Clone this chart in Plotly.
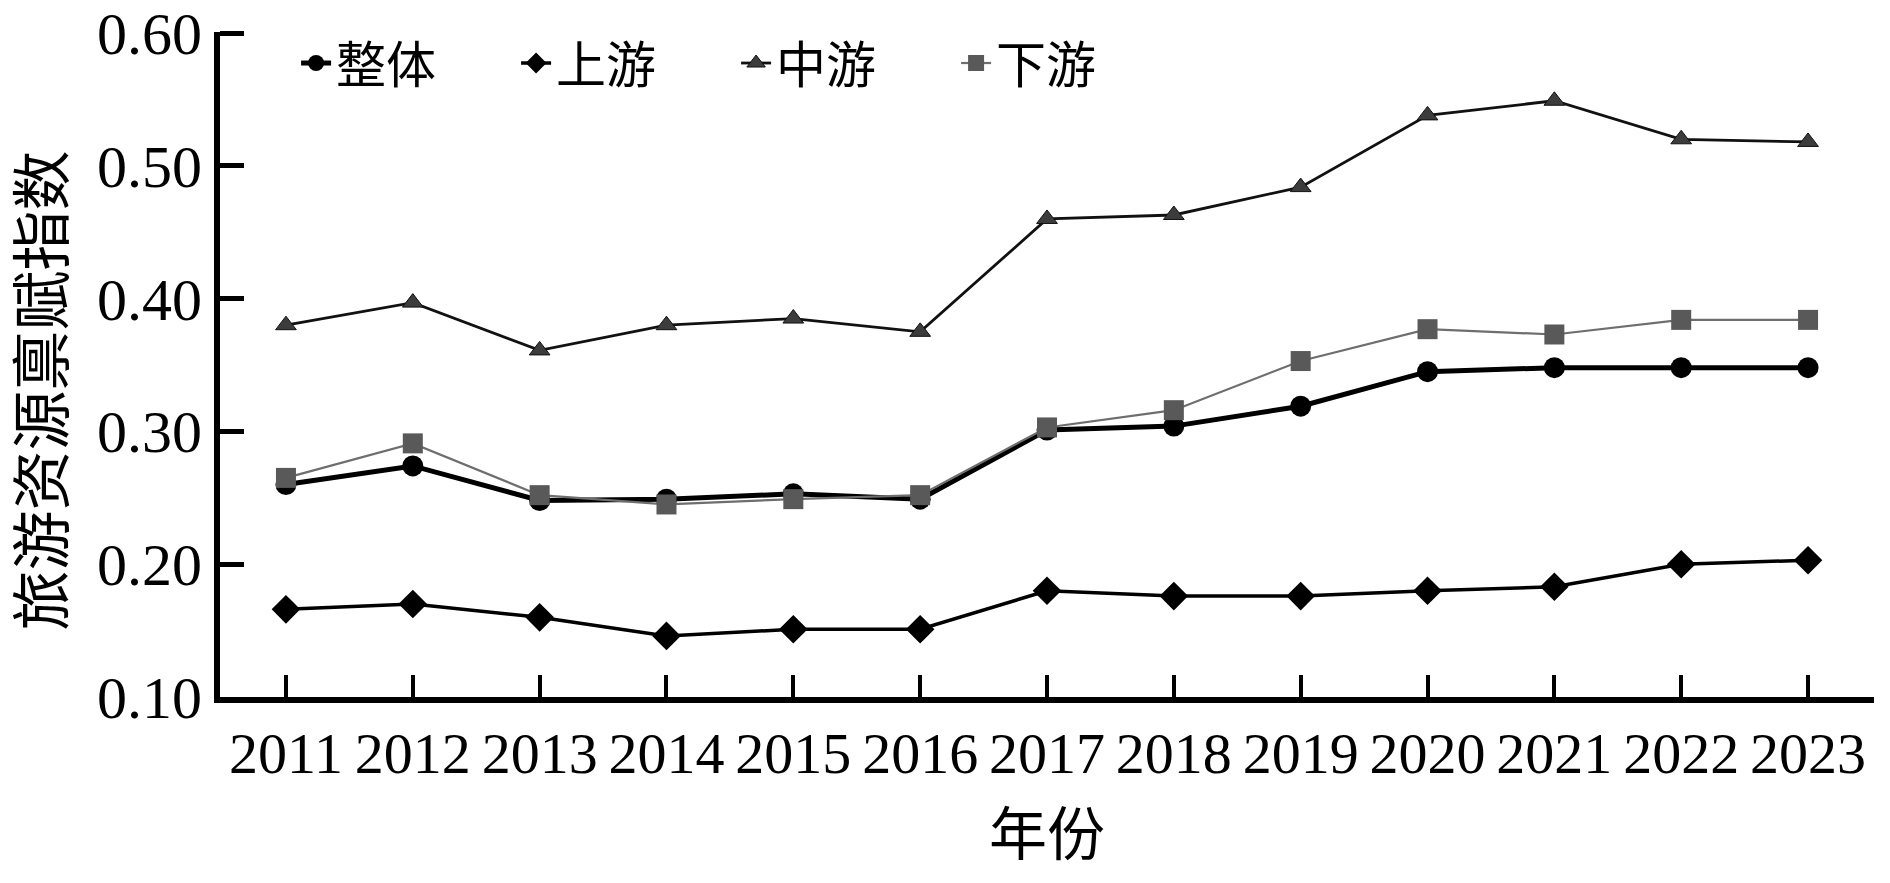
import plotly.graph_objects as go

years = [2011, 2012, 2013, 2014, 2015, 2016, 2017, 2018, 2019, 2020, 2021, 2022, 2023]
overall = [0.260, 0.274, 0.248, 0.249, 0.253, 0.249, 0.301, 0.304, 0.319, 0.345, 0.348, 0.348, 0.348]
upstream = [0.166, 0.170, 0.160, 0.146, 0.151, 0.151, 0.180, 0.176, 0.176, 0.180, 0.183, 0.200, 0.203]
midstream = [0.380, 0.397, 0.361, 0.380, 0.385, 0.375, 0.460, 0.463, 0.484, 0.538, 0.549, 0.520, 0.518]
downstream = [0.265, 0.291, 0.252, 0.245, 0.249, 0.252, 0.303, 0.316, 0.353, 0.377, 0.373, 0.384, 0.384]
series_names = ["整体", "上游", "中游", "下游"]
y_ticks = [0.10, 0.20, 0.30, 0.40, 0.50, 0.60]
y_title = "旅游资源禀赋指数"
x_title = "年份"

FONT = "Liberation Serif, Times New Roman, Noto Sans CJK SC"

fig = go.Figure()
fig.add_trace(go.Scatter(x=years, y=overall, name=series_names[0], mode="lines+markers",
                         line=dict(color="black", width=5),
                         marker=dict(symbol="circle", size=21, color="black")))
fig.add_trace(go.Scatter(x=years, y=upstream, name=series_names[1], mode="lines+markers",
                         line=dict(color="black", width=3.5),
                         marker=dict(symbol="diamond", size=22, color="black")))
fig.add_trace(go.Scatter(x=years, y=midstream, name=series_names[2], mode="lines+markers",
                         line=dict(color="#111111", width=2.8),
                         marker=dict(symbol="triangle-up", size=18, color="#3c3c3c",
                                     line=dict(color="#111111", width=1))))
fig.add_trace(go.Scatter(x=years, y=downstream, name=series_names[3], mode="lines+markers",
                         line=dict(color="#6e6e6e", width=2.2),
                         marker=dict(symbol="square", size=20, color="#595959")))

fig.update_layout(
    width=1890, height=883,
    paper_bgcolor="white", plot_bgcolor="white",
    margin=dict(l=212, r=24, t=24, b=194, autoexpand=False),
    font=dict(family=FONT, size=56, color="black"),
    showlegend=True,
    legend=dict(orientation="h", x=0.046, y=1.012, xanchor="left", yanchor="top",
                font=dict(family=FONT, size=50, color="black"),
                bgcolor="rgba(0,0,0,0)", entrywidth=175, entrywidthmode="pixels",
                itemsizing="trace", tracegroupgap=0),
    xaxis=dict(range=[2010.48, 2023.52], tickmode="array", tickvals=years,
               ticktext=[str(y) for y in years], automargin=False,
               ticklabeloverflow="allow",
               showline=True, linecolor="black", linewidth=6, mirror=False,
               ticks="inside", ticklen=22, tickwidth=4, tickcolor="black",
               showgrid=False, zeroline=False,
               tickfont=dict(family=FONT, size=58, color="black"),
               title=dict(text=x_title, font=dict(family=FONT, size=58), standoff=32)),
    yaxis=dict(range=[0.10, 0.6008], tickmode="array", tickvals=y_ticks,
               ticktext=[f"{v:.2f}" for v in y_ticks], automargin=False,
               ticklabeloverflow="allow",
               showline=True, linecolor="black", linewidth=6, mirror=False,
               ticks="inside", ticklen=24, tickwidth=5, tickcolor="black",
               showgrid=False, zeroline=False,
               tickfont=dict(family=FONT, size=60, color="black"),
               title=dict(text="")),
    annotations=[dict(text=y_title, textangle=-90, xref="paper", yref="paper",
                      x=0, y=0.5, xanchor="center", yanchor="middle",
                      xshift=-177, yshift=-26, showarrow=False,
                      font=dict(family=FONT, size=60, color="black"))],
)

fig.write_html("out.html")
